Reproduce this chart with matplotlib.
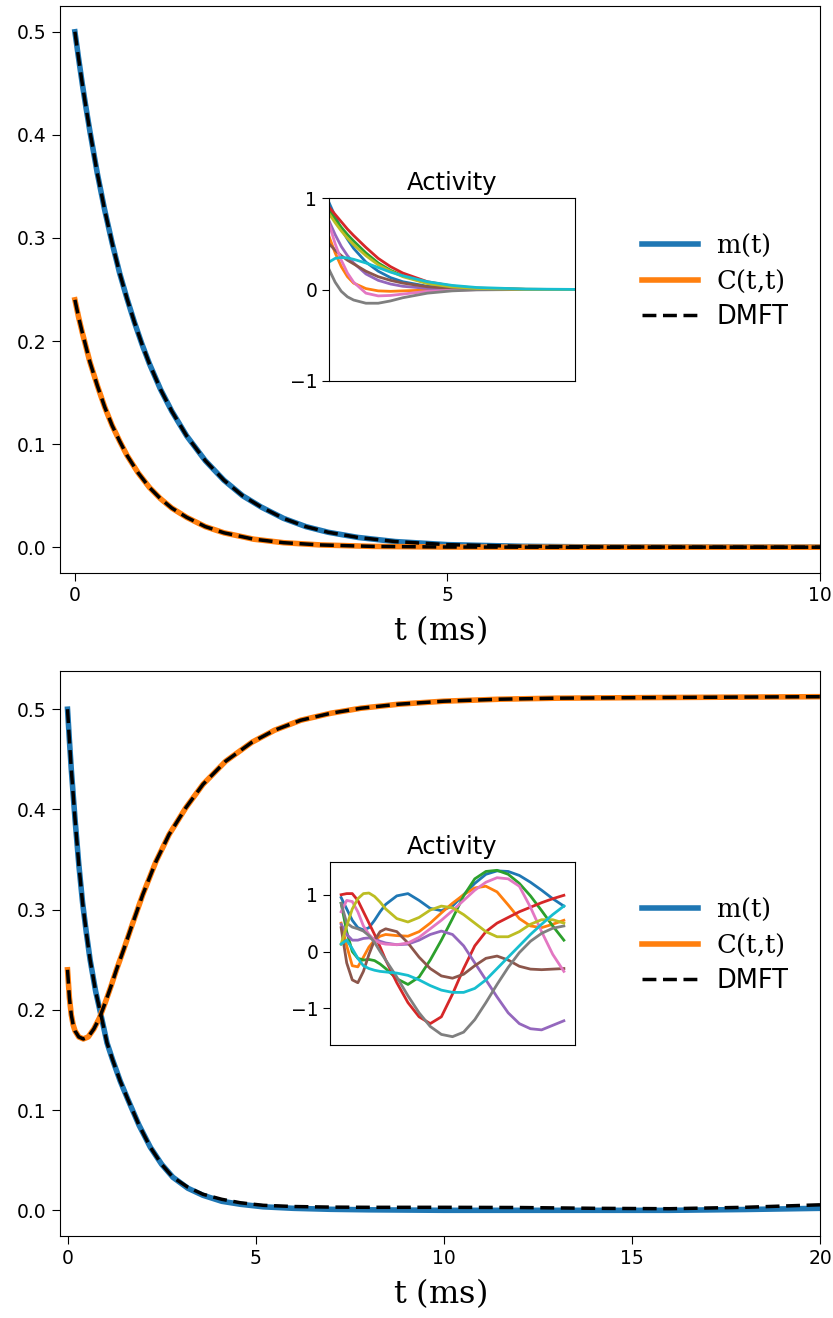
import matplotlib
matplotlib.use("Agg")
import matplotlib.pyplot as plt
import numpy as np

plt.rcParams['mathtext.fontset'] = 'dejavuserif'
plt.rcParams['font.size'] = 12

# --- relaxing network (top panel) ---
t_m_top = [0, 0.05, 0.1, 0.15, 0.2, 0.3, 0.4, 0.5, 0.6, 0.7, 0.8, 0.9, 1.0, 1.15, 1.3,
           1.5, 1.75, 2.0, 2.25, 2.5, 2.8, 3.1, 3.4, 3.8, 4.3, 5.0, 6.0, 7.0, 8.5, 10]
m_top = [0.5, 0.474, 0.449, 0.426, 0.404, 0.363, 0.327, 0.295, 0.266, 0.241, 0.218, 0.197,
         0.178, 0.153, 0.132, 0.108, 0.084, 0.065, 0.050, 0.039, 0.028, 0.020, 0.0145,
         0.0095, 0.0055, 0.0025, 0.0009, 0.0003, 0.0001, 0.0]
t_c_top = [0, 0.05, 0.1, 0.15, 0.2, 0.3, 0.4, 0.5, 0.6, 0.7, 0.85, 1.0, 1.15, 1.3, 1.5,
           1.75, 2.0, 2.4, 2.8, 3.3, 4.0, 5.0, 6.5, 8.0, 10.0]
c_top = [0.24, 0.223, 0.208, 0.194, 0.180, 0.157, 0.136, 0.118, 0.103, 0.089, 0.072, 0.058,
         0.047, 0.038, 0.029, 0.020, 0.014, 0.0078, 0.0044, 0.0022, 0.0008, 0.0002, 0.0,
         0.0, 0.0]

# single-unit traces shown in the inset
t_act_top = [0, 0.25, 0.5, 0.75, 1, 1.5, 2, 2.5, 3, 4, 5, 6, 8, 10]
act_top = [
    [0.95, 0.8, 0.66, 0.55, 0.45, 0.3, 0.2, 0.13, 0.085, 0.035, 0.013, 0.005, 0.0, 0.0],
    [0.58, 0.4, 0.25, 0.14, 0.07, 0.01, -0.015, -0.02, -0.015, -0.006, -0.002, 0.0, 0.0, 0.0],
    [0.87, 0.77, 0.68, 0.6, 0.53, 0.4, 0.29, 0.21, 0.15, 0.07, 0.03, 0.012, 0.002, 0.0],
    [0.9, 0.82, 0.74, 0.66, 0.59, 0.46, 0.34, 0.25, 0.18, 0.085, 0.038, 0.015, 0.002, 0.0],
    [0.75, 0.6, 0.47, 0.37, 0.29, 0.17, 0.1, 0.06, 0.035, 0.012, 0.004, 0.0, 0.0, 0.0],
    [0.5, 0.43, 0.37, 0.32, 0.28, 0.2, 0.14, 0.1, 0.07, 0.03, 0.012, 0.005, 0.0, 0.0],
    [0.72, 0.5, 0.32, 0.18, 0.08, -0.04, -0.07, -0.065, -0.05, -0.02, -0.008, -0.002, 0.0, 0.0],
    [0.22, 0.08, -0.02, -0.08, -0.115, -0.15, -0.15, -0.125, -0.09, -0.04, -0.015, -0.004, 0.0, 0.0],
    [0.83, 0.73, 0.64, 0.56, 0.49, 0.37, 0.27, 0.2, 0.14, 0.065, 0.028, 0.011, 0.002, 0.0],
    [0.3, 0.34, 0.35, 0.345, 0.33, 0.29, 0.24, 0.19, 0.15, 0.085, 0.045, 0.022, 0.005, 0.001],
]

# --- chaotic network (bottom panel) ---
t_m_bot = [0, 0.05, 0.1, 0.2, 0.3, 0.4, 0.5, 0.6, 0.75, 0.9, 1.05, 1.2, 1.4, 1.6, 1.9,
           2.2, 2.5, 2.8, 3.2, 3.6, 4.1, 4.6, 5.2, 6, 7, 8, 10, 12, 14, 16, 18, 20]
m_bot = [0.5, 0.469, 0.44, 0.39, 0.345, 0.307, 0.277, 0.25, 0.218, 0.193, 0.167, 0.150,
         0.129, 0.111, 0.085, 0.063, 0.046, 0.033, 0.022, 0.015, 0.009, 0.006, 0.0035,
         0.002, 0.001, 0.0005, 0.0, 0.0, 0.0, 0.0, 0.0008, 0.002]
dmft_m_bot = [0.5, 0.469, 0.44, 0.39, 0.345, 0.307, 0.277, 0.25, 0.218, 0.193, 0.167, 0.150,
              0.129, 0.111, 0.085, 0.063, 0.046, 0.033, 0.023, 0.016, 0.011, 0.0075, 0.005,
              0.0038, 0.0032, 0.003, 0.003, 0.0028, 0.002, 0.0016, 0.003, 0.0055]
t_c_bot = [0, 0.05, 0.1, 0.15, 0.2, 0.3, 0.42, 0.55, 0.7, 0.85, 1.0, 1.15, 1.3, 1.5, 1.7,
           2.0, 2.35, 2.7, 3.15, 3.6, 4.2, 4.9, 5.5, 6.2, 7.0, 7.8, 8.8, 10.0, 11.5, 13.0,
           15.0, 17.5, 20.0]
c_bot = [0.24, 0.212, 0.195, 0.185, 0.179, 0.173, 0.171, 0.173, 0.181, 0.192, 0.207, 0.223,
         0.240, 0.261, 0.283, 0.315, 0.348, 0.375, 0.402, 0.425, 0.448, 0.467, 0.479, 0.489,
         0.496, 0.501, 0.505, 0.508, 0.510, 0.511, 0.5115, 0.512, 0.5125]

t_act_bot = [0, 0.5, 1, 1.5, 2, 2.5, 3, 3.5, 4, 5, 6, 7, 8, 9, 10, 11, 12, 13, 14, 15,
             16, 17, 18, 19, 20]
act_bot = [
    [0.95, 0.75, 0.55, 0.42, 0.38, 0.42, 0.55, 0.7, 0.83, 0.98, 1.02, 0.9, 0.76, 0.72, 0.8,
     1.0, 1.2, 1.36, 1.42, 1.41, 1.34, 1.22, 1.08, 0.93, 0.8],
    [0.5, 0.1, -0.25, -0.27, -0.1, 0.08, 0.2, 0.27, 0.3, 0.28, 0.27, 0.35, 0.5, 0.68, 0.85,
     1.0, 1.12, 1.15, 1.05, 0.82, 0.58, 0.45, 0.42, 0.48, 0.55],
    [0.85, 0.35, 0.0, -0.12, -0.15, -0.14, -0.16, -0.22, -0.3, -0.48, -0.58, -0.45, -0.15,
     0.2, 0.58, 0.98, 1.28, 1.41, 1.43, 1.36, 1.2, 0.98, 0.72, 0.45, 0.2],
    [1.0, 1.02, 1.02, 0.9, 0.7, 0.5, 0.3, 0.08, -0.15, -0.55, -0.9, -1.15, -1.27, -1.15,
     -0.75, -0.3, 0.1, 0.35, 0.5, 0.6, 0.7, 0.78, 0.86, 0.93, 0.99],
    [0.48, 0.3, 0.2, 0.2, 0.23, 0.24, 0.22, 0.18, 0.15, 0.12, 0.13, 0.2, 0.3, 0.36, 0.3,
     0.1, -0.2, -0.5, -0.8, -1.08, -1.27, -1.36, -1.38, -1.3, -1.22],
    [0.42, -0.2, -0.5, -0.55, -0.35, -0.05, 0.2, 0.35, 0.4, 0.35, 0.15, -0.1, -0.3, -0.43,
     -0.47, -0.4, -0.25, -0.12, -0.08, -0.15, -0.26, -0.31, -0.32, -0.31, -0.3],
    [0.7, 0.9, 0.88, 0.7, 0.45, 0.3, 0.2, 0.15, 0.13, 0.12, 0.15, 0.25, 0.4, 0.55, 0.72,
     0.9, 1.08, 1.22, 1.3, 1.28, 1.15, 0.78, 0.35, -0.05, -0.35],
    [0.85, 0.5, 0.43, 0.4, 0.36, 0.28, 0.16, 0.0, -0.15, -0.45, -0.78, -1.08, -1.32, -1.46,
     -1.5, -1.42, -1.2, -0.9, -0.58, -0.28, -0.02, 0.18, 0.32, 0.41, 0.45],
    [0.13, 0.45, 0.75, 0.93, 1.02, 1.03, 0.97, 0.87, 0.75, 0.58, 0.52, 0.6, 0.73, 0.8, 0.77,
     0.65, 0.5, 0.35, 0.26, 0.26, 0.35, 0.48, 0.56, 0.56, 0.5],
    [0.13, 0.2, 0.05, -0.12, -0.25, -0.3, -0.33, -0.35, -0.36, -0.38, -0.42, -0.5, -0.6,
     -0.68, -0.72, -0.72, -0.65, -0.5, -0.3, -0.1, 0.1, 0.3, 0.48, 0.65, 0.8],
]

W, H = 833, 1318
fig = plt.figure(figsize=(W / 100, H / 100), dpi=100)


def box(x0, y0, x1, y1):
    # pixel box (left, top, right, bottom) -> figure fraction rect
    return [x0 / W, 1 - y1 / H, (x1 - x0) / W, (y1 - y0) / H]


def panel(rect, inset_rect, tm, m, dm, tc, c, ta, acts, xmax, xt, top_inset):
    ax = fig.add_axes(rect)
    ax.plot(tm, m, color='C0', lw=4, label=r'$\mathrm{m(t)}$')
    ax.plot(tc, c, color='C1', lw=4, label=r'$\mathrm{C(t{,}t)}$')
    ax.plot(tm, dm, 'k--', lw=2.5, dashes=(4.0, 1.9), label='DMFT')
    ax.plot(tc, c, 'k--', lw=2.5, dashes=(4.0, 1.9))
    ax.set_xlim(-0.2, xmax)
    ax.set_xticks(xt)
    ax.tick_params(labelsize=13.5, length=6)
    ax.set_xlabel(r'$\mathrm{t\ (ms)}$', fontsize=23, labelpad=6)
    ax.legend(frameon=False, fontsize=18.5, handlelength=2.2, labelspacing=0.35,
              handletextpad=0.7, loc='center left', bbox_to_anchor=(0.735, 0.515))

    ins = fig.add_axes(inset_rect)
    for i, a in enumerate(acts):
        ins.plot(ta, a, color='C%d' % i, lw=2)
    ins.set_xticks([])
    ins.set_yticks([-1, 0, 1])
    ins.tick_params(labelsize=13.5, length=5)
    ins.set_title('Activity', fontsize=17.5)
    if top_inset:
        ins.set_xlim(0, 10)
        ins.set_ylim(-1, 1)
    return ax


panel(box(60, 6, 820, 573), box(329, 198, 575, 381),
      t_m_top, m_top, m_top, t_c_top, c_top, t_act_top, act_top, 10, [0, 5, 10], True)
panel(box(60, 671, 820, 1236), box(330, 862, 575, 1045),
      t_m_bot, m_bot, dmft_m_bot, t_c_bot, c_bot, t_act_bot, act_bot, 20,
      [0, 5, 10, 15, 20], False)

fig.savefig('out.png', dpi=100)
